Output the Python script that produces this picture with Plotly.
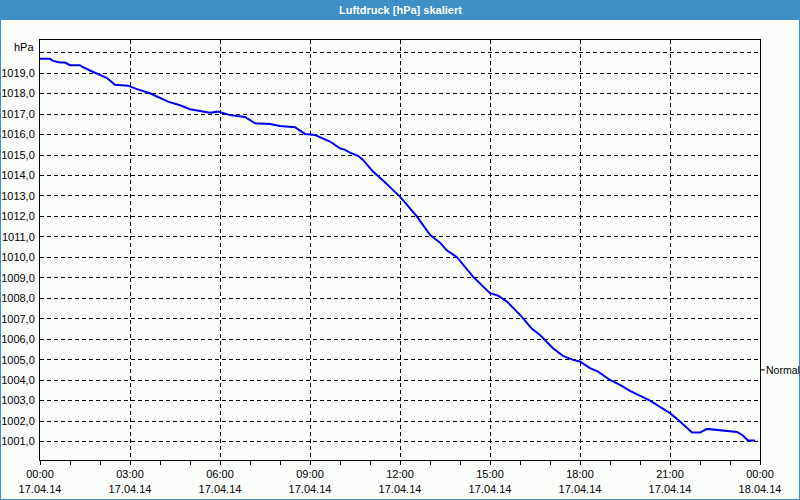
import plotly.graph_objects as go

# ---- data ----
times = ["00:00", "00:20", "00:26", "00:40", "00:50", "01:00", "01:20", "01:24", "01:40", "01:56",
         "02:14", "02:30", "02:56", "03:14", "03:40", "04:16", "04:40", "05:00", "05:20", "05:40",
         "05:56", "06:20", "06:50", "07:10", "07:40", "08:00", "08:30", "08:50", "09:10", "09:30",
         "09:40", "10:00", "10:10", "10:20", "10:36", "10:46", "11:06", "11:26", "12:00", "12:34",
         "13:00", "13:20", "13:34", "13:54", "14:26", "15:00", "15:16", "15:34", "16:00", "16:24",
         "16:40", "17:06", "17:26", "17:46", "18:00", "18:20", "18:36", "19:00", "19:20", "19:40",
         "20:20", "21:00", "21:20", "21:44", "22:00", "22:14", "22:40", "23:14", "23:24", "23:36",
         "23:50"]
pressure = [1019.70, 1019.70, 1019.60, 1019.52, 1019.52, 1019.39, 1019.39, 1019.32, 1019.13, 1018.95,
            1018.76, 1018.43, 1018.39, 1018.22, 1018.02, 1017.61, 1017.43, 1017.24, 1017.16, 1017.07,
            1017.12, 1016.95, 1016.86, 1016.55, 1016.52, 1016.42, 1016.36, 1016.03, 1015.98, 1015.77,
            1015.66, 1015.33, 1015.25, 1015.12, 1014.96, 1014.76, 1014.19, 1013.75, 1012.97, 1011.99,
            1011.10, 1010.72, 1010.33, 1010.01, 1009.06, 1008.25, 1008.13, 1007.84, 1007.19, 1006.51,
            1006.21, 1005.56, 1005.19, 1004.99, 1004.91, 1004.59, 1004.42, 1004.01, 1003.77, 1003.48,
            1003.00, 1002.39, 1001.98, 1001.44, 1001.44, 1001.62, 1001.54, 1001.47, 1001.33, 1001.05,
            1001.05]
x_ticks = ["2014-04-17 00:00", "2014-04-17 03:00", "2014-04-17 06:00", "2014-04-17 09:00",
           "2014-04-17 12:00", "2014-04-17 15:00", "2014-04-17 18:00", "2014-04-17 21:00",
           "2014-04-18 00:00"]
x_labels = ["00:00<br>17.04.14", "03:00<br>17.04.14", "06:00<br>17.04.14", "09:00<br>17.04.14",
            "12:00<br>17.04.14", "15:00<br>17.04.14", "18:00<br>17.04.14", "21:00<br>17.04.14",
            "00:00<br>18.04.14"]
y_ticks = list(range(1001, 1021))
y_labels = [("%.1f" % v).replace(".", ",") if v < 1020 else "" for v in y_ticks]
normal_value = 1004.5

x_data = ["2014-04-17 " + t for t in times]

FONT = "Liberation Sans, Arial, sans-serif"
BG = "#fbfdfb"
BLUE_BAR = "#3d8fc6"

fig = go.Figure()
fig.add_trace(go.Scatter(x=x_data, y=pressure, mode="lines",
                         line=dict(color="#0000f0", width=2), hoverinfo="skip"))

W, H = 720, 420  # plot area in px

fig.update_layout(
    width=800, height=500,
    margin=dict(l=40, r=40, t=40, b=40, autoexpand=False),
    paper_bgcolor=BG, plot_bgcolor=BG,
    showlegend=False,
    font=dict(family=FONT, size=11, color="black"),
    xaxis=dict(type="date", range=["2014-04-17 00:00", "2014-04-18 00:00"],
               tickmode="array", tickvals=x_ticks, ticktext=x_labels,
               ticks="outside", ticklen=4, tickcolor="black",
               showgrid=True, gridcolor="black", gridwidth=1, griddash="4px,3px",
               showline=True, linecolor="black", linewidth=1, mirror=True,
               zeroline=False, automargin=False,
               minor=dict(dtick=3600000, ticks="outside", ticklen=4, tickcolor="black", showgrid=False)),
    yaxis=dict(range=[1000.1, 1020.62], tickmode="array", tickvals=y_ticks, ticktext=y_labels,
               ticks="", showgrid=True, gridcolor="black", gridwidth=1, griddash="4px,3px",
               showline=True, linecolor="black", linewidth=1, mirror=True,
               zeroline=False, automargin=False, ticklabelstandoff=2),
)

# title bar
fig.add_shape(type="rect", xref="paper", yref="paper",
              x0=-40 / W, x1=1 + 40 / W, y0=1 + 20 / H, y1=1 + 40 / H,
              fillcolor=BLUE_BAR, line=dict(width=0), layer="below")
fig.add_annotation(text="<b>Luftdruck [hPa] skaliert</b>", xref="paper", yref="paper",
                   x=0.5, y=1 + 30 / H, yanchor="middle", showarrow=False,
                   font=dict(family=FONT, size=11, color="white"))
# window frame
fig.add_shape(type="rect", xref="paper", yref="paper",
              x0=-40 / W, x1=1 + 40 / W, y0=-40 / H, y1=1 + 40 / H,
              line=dict(color=BLUE_BAR, width=2), fillcolor="rgba(0,0,0,0)", layer="above")
# unit label
fig.add_annotation(text="hPa", xref="paper", yref="paper", x=0, xshift=-4, xanchor="right",
                   y=1 - 6.7 / H, yanchor="middle", showarrow=False,
                   font=dict(family=FONT, size=11, color="black"))
# Normal marker
fig.add_shape(type="line", xref="paper", yref="y", x0=1, x1=1 + 5 / W,
              y0=normal_value, y1=normal_value, line=dict(color="black", width=1), layer="above")
fig.add_annotation(text="Normal", xref="paper", yref="y", x=1 + 4 / W, xanchor="left",
                   y=normal_value, yanchor="middle", showarrow=False,
                   font=dict(family=FONT, size=10.5, color="black"))

fig.write_html("out.html")
